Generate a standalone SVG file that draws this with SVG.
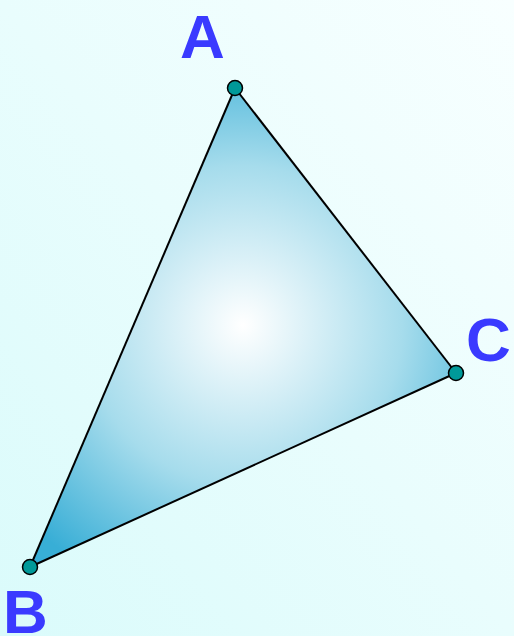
<svg xmlns="http://www.w3.org/2000/svg" width="514" height="636" viewBox="0 0 514 636">
  <defs>
    <linearGradient id="bg" x1="0" y1="1" x2="1" y2="0">
      <stop offset="0" stop-color="#dafbfb"/>
      <stop offset="1" stop-color="#f8ffff"/>
    </linearGradient>
    <radialGradient id="tri" gradientUnits="userSpaceOnUse" cx="243" cy="325" r="290">
      <stop offset="0" stop-color="#ffffff"/>
      <stop offset="0.55" stop-color="#a6dcec"/>
      <stop offset="1" stop-color="#38aed6"/>
    </radialGradient>
    <style>
      .lbl { font-family: "Liberation Sans", Arial, sans-serif; font-weight: bold; font-size: 62px; fill: #3a3aff; }
      .pt { fill: #009999; stroke: #000; stroke-width: 1.5; }
      .edge { stroke: #000; stroke-width: 2; fill: none; }
    </style>
  </defs>
  <rect width="514" height="636" fill="url(#bg)"/>
  <polygon points="235,88 30,567 456,373" fill="url(#tri)"/>
  <g id="connectors">
    <line class="edge" x1="235" y1="88" x2="30" y2="567"/>
    <line class="edge" x1="30" y1="567" x2="456" y2="373"/>
    <line class="edge" x1="456" y1="373" x2="235" y2="88"/>
  </g>
  <g id="A">
    <circle class="pt" cx="235" cy="88" r="7.5"/>
    <text class="lbl" x="180" y="58">A</text>
  </g>
  <g id="B">
    <circle class="pt" cx="30" cy="567" r="7.5"/>
    <text class="lbl" x="3" y="633">B</text>
  </g>
  <g id="C">
    <circle class="pt" cx="456" cy="373" r="7.5"/>
    <text class="lbl" x="466" y="361">C</text>
  </g>
</svg>
